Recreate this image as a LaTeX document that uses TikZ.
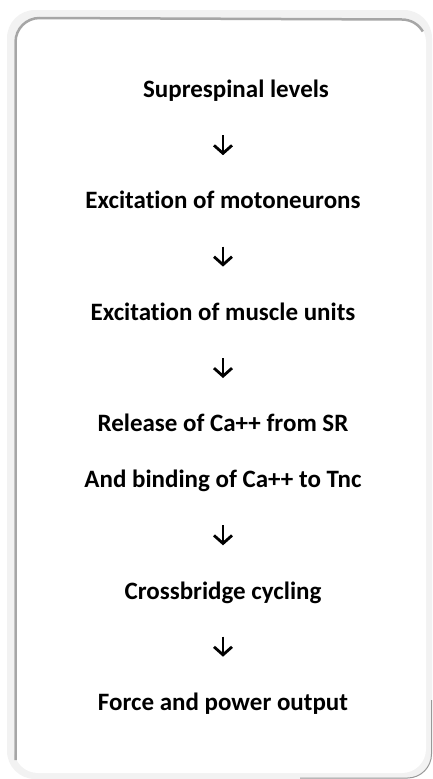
\documentclass[tikz,border=0pt]{standalone}
\usepackage{fontspec}
\setmainfont{Carlito}[Ligatures=CommonOff]
\usepackage{tikz}
\usetikzlibrary{positioning, arrows.meta}

\begin{document}
\begin{tikzpicture}[x=1pt, y=-1pt,
  every node/.style={font=\fontsize{25}{29}\selectfont\bfseries, align=center,
                     inner sep=0pt, text height=16pt, text depth=5pt},
  arrow/.style={-{Straight Barb[length=8pt, width=18pt]}, line width=2.8pt,
                shorten <=32.5pt, shorten >=37.5pt},
  frame/.style={fill=black!5, rounded corners=28pt},
  inner/.style={fill=white, rounded corners=24pt}
]
  \useasboundingbox (0,0) rectangle (432,779);
  % panel
  \path[frame] (7,10) rectangle (432,779);
  \path[inner] (14,18) rectangle (426,773);
  \draw[black!35, line width=2.5pt] (15.5,760) -- (15.5,42)
    arc[start angle=180, end angle=90, radius=24pt] -- (402,19.5)
    arc[start angle=90, end angle=30, radius=24pt];
  \draw[black!40, line width=1pt] (431.5,700) -- (431.5,754)
    arc[start angle=0, end angle=-90, radius=24pt] -- (300,778);

  \node (sup) at (236,92) {Suprespinal levels};
  \node[below=90pt of sup, xshift=-13pt] (moto) {Excitation of motoneurons};
  \node[below=90pt of moto] (units) {Excitation of muscle units};
  \node[below=90pt of units] (release) {Release of Ca++ from SR};
  \node[below=34.5pt of release] (bind) {And binding of Ca++ to Tnc};
  \node[below=90pt of bind] (cross) {Crossbridge cycling};
  \node[below=90pt of cross] (force) {Force and power output};

  \draw[arrow] (sup.south -| moto) -- (moto);
  \draw[arrow] (moto) -- (units);
  \draw[arrow] (units) -- (release);
  \draw[arrow] (bind) -- (cross);
  \draw[arrow] (cross) -- (force);
\end{tikzpicture}
\end{document}
